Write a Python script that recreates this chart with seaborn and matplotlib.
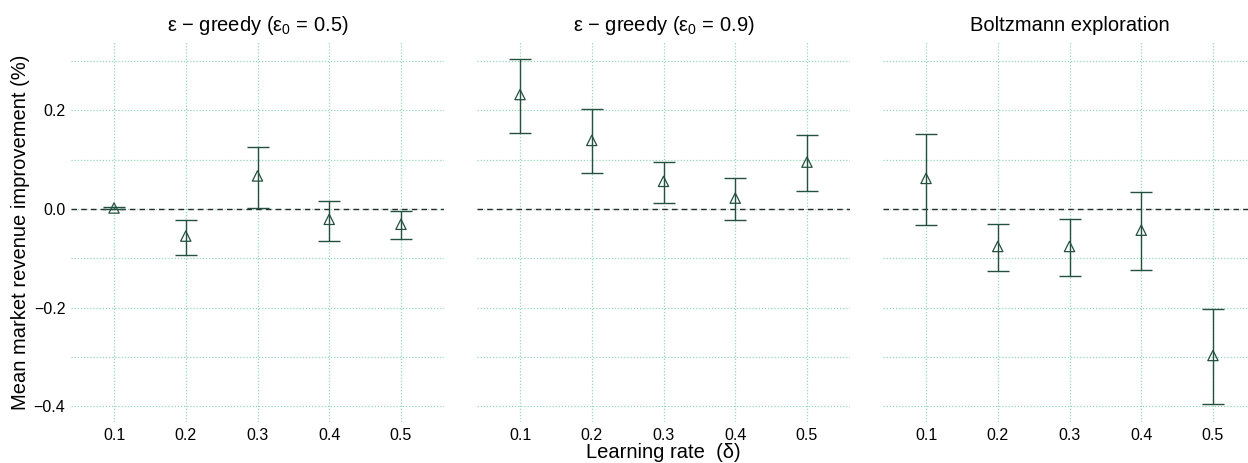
import matplotlib
matplotlib.use("Agg")
import matplotlib.pyplot as plt
import seaborn as sns
import pandas as pd
import numpy as np

# learning rates on the x axis
rates = [0.1, 0.2, 0.3, 0.4, 0.5]

titles = [
    "ε − greedy (ε$_0$ = 0.5)",
    "ε − greedy (ε$_0$ = 0.9)",
    "Boltzmann exploration",
]

# mean improvement and interval bounds (%)
greedy05_mean = [0.002, -0.055, 0.067, -0.021, -0.031]
greedy05_lo = [-0.001, -0.093, 0.003, -0.064, -0.061]
greedy05_hi = [0.004, -0.023, 0.125, 0.017, -0.005]

greedy09_mean = [0.232, 0.139, 0.056, 0.022, 0.095]
greedy09_lo = [0.155, 0.073, 0.012, -0.022, 0.037]
greedy09_hi = [0.305, 0.203, 0.096, 0.062, 0.149]

boltz_mean = [0.062, -0.076, -0.076, -0.043, -0.297]
boltz_lo = [-0.032, -0.125, -0.135, -0.124, -0.395]
boltz_hi = [0.153, -0.031, -0.020, 0.034, -0.203]

yticks = [-0.4, -0.2, 0.0, 0.2]
ytick_labels = ["\u22120.4", "\u22120.2", "0.0", "0.2"]

MARK = "#24503f"
GRID = "#95d8b8"

sns.set_style("white")
plt.rcParams["font.family"] = ["Liberation Sans", "DejaVu Sans"]
plt.rcParams["mathtext.fontset"] = "custom"
plt.rcParams["mathtext.rm"] = "Liberation Sans"
plt.rcParams["mathtext.it"] = "Liberation Sans"
plt.rcParams["text.color"] = "black"
plt.rcParams["axes.labelcolor"] = "black"
plt.rcParams["xtick.color"] = "black"
plt.rcParams["ytick.color"] = "black"

frames = []
for name, m, lo, hi in [
    (titles[0], greedy05_mean, greedy05_lo, greedy05_hi),
    (titles[1], greedy09_mean, greedy09_lo, greedy09_hi),
    (titles[2], boltz_mean, boltz_lo, boltz_hi),
]:
    frames.append(pd.DataFrame({"panel": name, "rate": rates, "mean": m, "lo": lo, "hi": hi}))
df = pd.concat(frames, ignore_index=True)

W, H = 1248, 463
fig = plt.figure(figsize=(W / 100, H / 100), dpi=100)

ax_w = 373 / W
ax_h = (422 - 42) / H
lefts = [71, 477, 883]

for i, name in enumerate(titles):
    ax = fig.add_axes([lefts[i] / W, 1 - 422 / H, ax_w, ax_h])
    d = df[df["panel"] == name]

    # grid first so the marks sit on top
    for y in np.arange(-0.4, 0.31, 0.1):
        ax.axhline(y, color=GRID, lw=0.9, ls=(0, (1, 1.5)), zorder=0)
    for x in rates:
        ax.axvline(x, color=GRID, lw=0.9, ls=(0, (1, 1.5)), zorder=0)
    ax.axhline(0, color="#2a2a2a", lw=1.0, ls=(0, (4, 3)), zorder=1)

    ax.errorbar(d["rate"], d["mean"],
                yerr=[d["mean"] - d["lo"], d["hi"] - d["mean"]],
                fmt="none", ecolor=MARK, elinewidth=1.0, capsize=8,
                capthick=1.0, zorder=2)
    sns.scatterplot(data=d, x="rate", y="mean", marker="^", s=55,
                    facecolor="none", edgecolor=MARK, linewidth=0.9,
                    ax=ax, zorder=3, legend=False)

    ax.set_xlim(0.04, 0.56)
    ax.set_ylim(-0.4318, 0.3385)
    ax.set_xticks(rates)
    ax.set_xticklabels([f"{r:.1f}" for r in rates], fontsize=11.5)
    ax.set_yticks(yticks)
    if i == 0:
        ax.set_yticklabels(ytick_labels, fontsize=11.5)
        ax.set_ylabel("Mean market revenue improvement (%)", fontsize=14.5, labelpad=3)
    else:
        ax.set_yticklabels([])
        ax.set_ylabel("")
    ax.set_xlabel("")
    ax.tick_params(length=0, pad=4)
    ax.set_title(name, fontsize=14.5, pad=8)
    sns.despine(ax=ax, left=True, bottom=True)

fig.text(663 / W, 1 - 453 / H, "Learning rate  (δ)", ha="center", va="center", fontsize=14.5)

fig.savefig("out.png", dpi=100)
